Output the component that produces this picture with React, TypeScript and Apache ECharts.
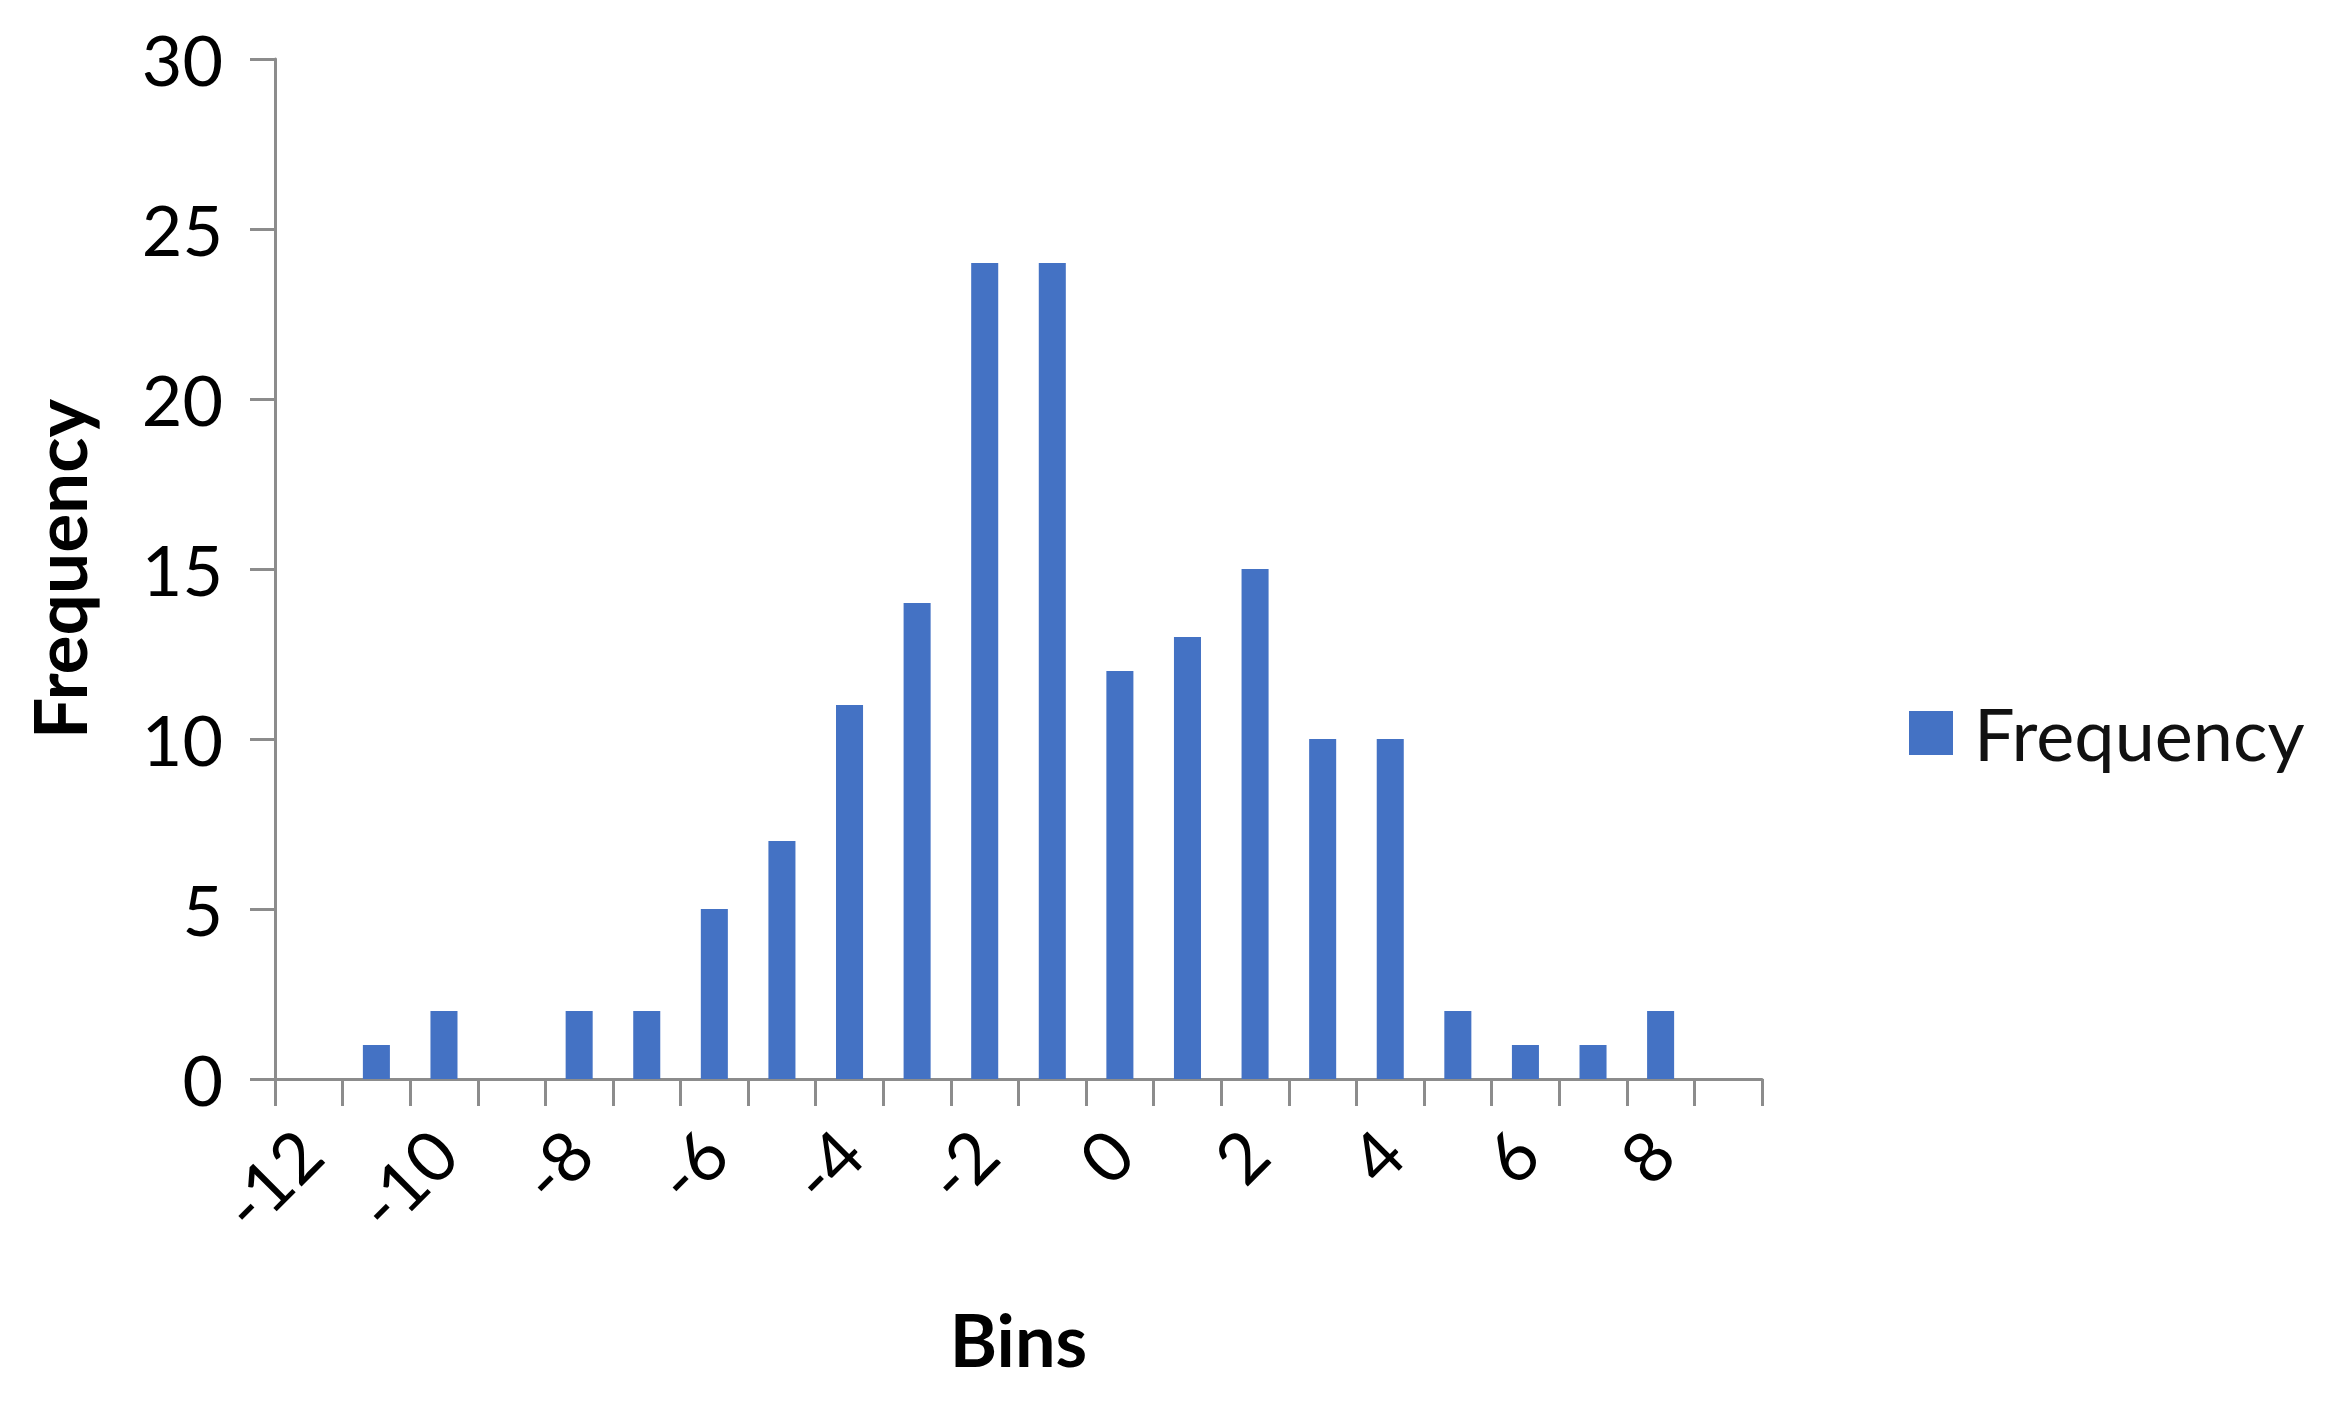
import React, { useEffect, useRef } from "react";
import * as echarts from "echarts";

const categories: string[] = [
  "-12", "-11", "-10", "-9", "-8", "-7", "-6", "-5", "-4", "-3", "-2",
  "-1", "0", "1", "2", "3", "4", "5", "6", "7", "8", "9",
];
const frequency: number[] = [
  0, 1, 2, 0, 2, 2, 5, 7, 11, 14, 24, 24, 12, 13, 15, 10, 10, 2, 1, 1, 2, 0,
];
const yMin = 0;
const yMax = 30;
const yStep = 5;

const FONT = "Lato, 'Noto Sans', sans-serif";
const AXIS_COLOR = "#8c8c8c";
const BAR_COLOR = "#4472C4";

export default function App() {
  const ref = useRef<HTMLDivElement>(null);
  useEffect(() => {
    if (!ref.current) return;
    const chart = echarts.init(ref.current, undefined, { renderer: "svg" });
    chart.setOption({
      animation: false,
      backgroundColor: "#ffffff",
      textStyle: { fontFamily: FONT },
      grid: { left: 275, right: 566, top: 59, bottom: 328, containLabel: false },
      legend: {
        show: true,
        data: ["Frequency"],
        left: 1909,
        top: 697,
        padding: 0,
        icon: "rect",
        itemWidth: 44,
        itemHeight: 44,
        textStyle: {
          fontSize: 72,
          color: "#111",
          fontFamily: FONT,
          padding: [0, 0, 0, 16],
        },
      },
      xAxis: {
        type: "category",
        data: categories,
        boundaryGap: true,
        name: "Bins",
        nameLocation: "middle",
        nameGap: 224,
        nameTextStyle: { fontSize: 72, fontWeight: "bold", color: "#000", fontFamily: FONT },
        axisLine: { show: true, lineStyle: { color: AXIS_COLOR, width: 3 } },
        axisTick: {
          show: true,
          interval: 0,
          alignWithLabel: false,
          length: 27,
          lineStyle: { color: AXIS_COLOR, width: 3 },
        },
        axisLabel: {
          interval: 1,
          rotate: 45,
          margin: 62,
          fontSize: 70,
          color: "#000",
          fontFamily: FONT,
        },
        splitLine: { show: false },
      },
      yAxis: {
        type: "value",
        min: yMin,
        max: yMax,
        interval: yStep,
        name: "Frequency",
        nameLocation: "middle",
        nameGap: 180,
        nameRotate: 90,
        nameTextStyle: { fontSize: 73, fontWeight: "bold", color: "#000", fontFamily: FONT },
        axisLine: { show: true, lineStyle: { color: AXIS_COLOR, width: 3 } },
        axisTick: { show: true, length: 25, lineStyle: { color: AXIS_COLOR, width: 3 } },
        axisLabel: { margin: 52, fontSize: 70, color: "#000", fontFamily: FONT },
        splitLine: { show: false },
      },
      series: [
        {
          name: "Frequency",
          type: "bar",
          data: frequency,
          barCategoryGap: "60%",
          itemStyle: { color: BAR_COLOR },
        },
      ],
    });
    return () => chart.dispose();
  }, []);
  return (
    <div
      ref={ref}
      style={{ position: "absolute", left: 0, top: 0, width: 2328, height: 1407 }}
    />
  );
}
